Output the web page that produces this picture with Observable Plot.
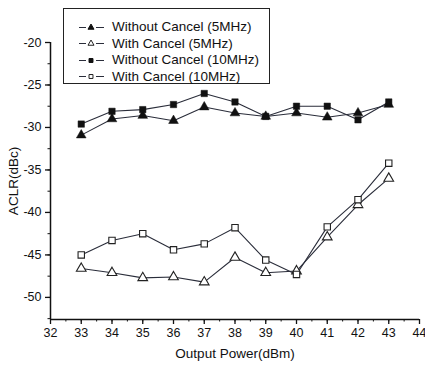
<!DOCTYPE html>
<html>
<head>
<meta charset="utf-8">
<script src="https://cdn.jsdelivr.net/npm/d3@7"></script>
<script src="https://cdn.jsdelivr.net/npm/@observablehq/plot@0.6"></script>
<style>
  body { margin: 0; background: #fff; }
  #wrap { position: relative; width: 425px; height: 367px; font-family: "Liberation Sans", Arial, sans-serif; }
  #legend { position: absolute; left: 63px; top: 8px; width: 205px; height: 74px; border: 1.5px solid #222; background: #fff; box-sizing: content-box; }
  .entry { position: absolute; left: 14px; height: 16px; display: flex; align-items: center; font-size: 13.5px; color: #111; white-space: nowrap; }
  .entry svg { margin-right: 6px; }
</style>
</head>
<body>
<div id="wrap"></div>
<script>
const power = [33, 34, 35, 36, 37, 38, 39, 40, 41, 42, 43];
const withoutCancel5 = [-30.9, -29.0, -28.6, -29.2, -27.6, -28.3, -28.7, -28.3, -28.8, -28.3, -27.3];
const withCancel5 = [-46.6, -47.1, -47.7, -47.6, -48.2, -45.3, -47.1, -46.9, -42.9, -39.1, -36.0];
const withoutCancel10 = [-29.6, -28.1, -27.9, -27.3, -26.0, -27.0, -28.7, -27.5, -27.5, -29.1, -27.0];
const withCancel10 = [-45.0, -43.3, -42.5, -44.4, -43.7, -41.8, -45.6, -47.3, -41.7, -38.5, -34.2];
const seriesNames = ["Without Cancel (5MHz)", "With Cancel (5MHz)", "Without Cancel (10MHz)", "With Cancel (10MHz)"];
const xTicks = [32, 33, 34, 35, 36, 37, 38, 39, 40, 41, 42, 43, 44];
const yTicks = [-50, -45, -40, -35, -30, -25, -20];

const seriesValues = [withoutCancel5, withCancel5, withoutCancel10, withCancel10];
const symbols = ["triangle", "triangle", "square", "square"];
const filled = [true, false, true, false];

const data = [];
seriesValues.forEach((vals, i) => {
  vals.forEach((v, j) => data.push({ series: seriesNames[i], x: power[j], y: v, symbol: symbols[i], filled: filled[i] }));
});

const xMinor = d3.range(32, 44.01, 0.5);
const yMinor = d3.range(-52.5, -19.99, 2.5);
const yDomain = [-52.6, -20];

const plot = Plot.plot({
  width: 425,
  height: 367,
  marginLeft: 50,
  marginRight: 6,
  marginTop: 42,
  marginBottom: 48,
  style: { fontFamily: "Liberation Sans, Arial, sans-serif", fontSize: "12px", color: "#111", background: "#fff" },
  x: { domain: [32, 44] },
  y: { domain: yDomain },
  marks: [
    Plot.axisX({ ticks: xMinor, tickSize: 2.5, tickFormat: () => "", label: null }),
    Plot.axisX({ ticks: xTicks, tickSize: 5, tickPadding: 4, tickFormat: d => d, label: "Output Power(dBm)", labelAnchor: "center", labelArrow: "none", labelOffset: 38, fontSize: 12.5, strokeWidth: 1.3 }),
    Plot.axisY({ ticks: yMinor, tickSize: 2.5, tickFormat: () => "", label: null }),
    Plot.axisY({ ticks: yTicks, tickSize: 5, tickPadding: 4, tickFormat: d => d, label: "ACLR(dBc)", labelAnchor: "center", labelArrow: "none", labelOffset: 42, fontSize: 12.5, strokeWidth: 1.3 }),
    Plot.ruleX([32], { y1: yDomain[0], y2: yDomain[1], stroke: "#111", strokeWidth: 1.5 }),
    Plot.ruleY([yDomain[0]], { x1: 32, x2: 44, stroke: "#111", strokeWidth: 1.5 }),
    Plot.line(data, { x: "x", y: "y", z: "series", stroke: "#2a2d3a", strokeWidth: 1.1 }),
    Plot.dot(data.filter(d => d.filled), { x: "x", y: "y", symbol: "symbol", r: 3.6, fill: "#111", stroke: "#111", strokeWidth: 0.5 }),
    Plot.dot(data.filter(d => !d.filled), { x: "x", y: "y", symbol: "symbol", r: 3.6, fill: "#fff", stroke: "#222", strokeWidth: 1.1 })
  ]
});

// enlarge axis titles
plot.querySelectorAll("[aria-label$='axis label'] text").forEach(t => t.setAttribute("font-size", "13.5"));

const wrap = document.getElementById("wrap");
wrap.appendChild(plot);

const legend = document.createElement("div");
legend.id = "legend";
wrap.appendChild(legend);
seriesNames.forEach((name, i) => {
  const e = document.createElement("div");
  e.className = "entry";
  e.style.top = (9.5 + i * 16.6) + "px";
  const s = d3.create("svg").attr("width", 28).attr("height", 12);
  s.append("line").attr("x1", 1).attr("x2", 8).attr("y1", 6.5).attr("y2", 6.5).attr("stroke", "#2a2d3a").attr("stroke-width", 1);
  s.append("line").attr("x1", 18).attr("x2", 26).attr("y1", 6.5).attr("y2", 6.5).attr("stroke", "#2a2d3a").attr("stroke-width", 1);
  const sym = symbols[i] === "triangle" ? d3.symbolTriangle2 : d3.symbolSquare2;
  s.append("path").attr("d", d3.symbol(sym, symbols[i] === "triangle" ? 26 : 20)())
    .attr("transform", "translate(13,6.5)")
    .attr("fill", filled[i] ? "#111" : "#fff").attr("stroke", filled[i] ? "#111" : "#222").attr("stroke-width", 1);
  e.appendChild(s.node());
  const t = document.createElement("span");
  t.textContent = name;
  e.appendChild(t);
  legend.appendChild(e);
});
</script>
</body>
</html>
